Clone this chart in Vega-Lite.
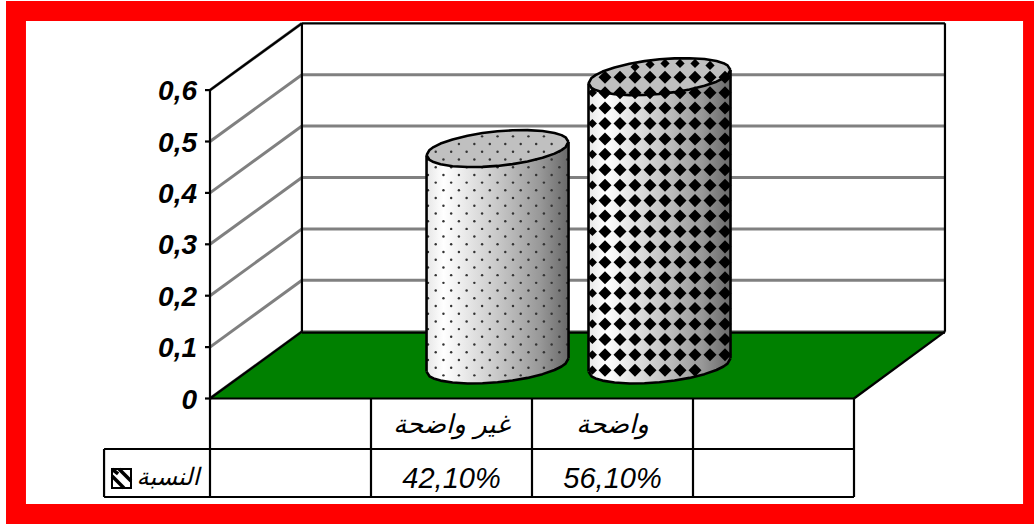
{"$schema":"https://vega.github.io/schema/vega-lite/v6.json","width":1034,"height":525,"padding":0,"autosize":{"type":"none"},"background":"white","config":{"view":{"stroke":null}},
"datasets":{
"frame":[{"x":-1.267,"x2":5.118,"y":0.7733,"y2":-0.2442,"part":"outer"}],
"inner":[{"x":-1.143,"x2":5.05,"y":0.7344,"y2":-0.2053,"part":"inner"}],
"floor":[{"x":0,"y":0,"y2":0},{"x":0.571,"y":0.13,"y2":0},{"x":4,"y":0.13,"y2":0},{"x":4.565,"y":0.13,"y2":0.13}],
"grid":[
{"x":0,"x2":0.571,"y":0,"y2":0.13},{"x":0.571,"x2":4.565,"y":0.13,"y2":0.13},
{"x":0,"x2":0.571,"y":0.1,"y2":0.23},{"x":0.571,"x2":4.565,"y":0.23,"y2":0.23},
{"x":0,"x2":0.571,"y":0.2,"y2":0.33},{"x":0.571,"x2":4.565,"y":0.33,"y2":0.33},
{"x":0,"x2":0.571,"y":0.3,"y2":0.43},{"x":0.571,"x2":4.565,"y":0.43,"y2":0.43},
{"x":0,"x2":0.571,"y":0.4,"y2":0.53},{"x":0.571,"x2":4.565,"y":0.53,"y2":0.53},
{"x":0,"x2":0.571,"y":0.5,"y2":0.63},{"x":0.571,"x2":4.565,"y":0.63,"y2":0.63},
{"x":0,"x2":0.571,"y":0.6,"y2":0.73}],
"edges":[
{"x":0.571,"x2":4.565,"y":0.73,"y2":0.73},{"x":0.571,"x2":0.571,"y":0.13,"y2":0.73},{"x":4.565,"x2":4.565,"y":0.13,"y2":0.73},
{"x":0,"x2":0.571,"y":0.6,"y2":0.73},{"x":0,"x2":0.571,"y":0,"y2":0.13},{"x":4,"x2":4.565,"y":0,"y2":0.13},{"x":0.571,"x2":4.565,"y":0.128,"y2":0.128},
{"x":0,"x2":0,"y":0,"y2":0.6},{"x":0,"x2":4,"y":0,"y2":0},
{"x":-0.658,"x2":4,"y":-0.0982,"y2":-0.0982},{"x":-0.658,"x2":4,"y":-0.1916,"y2":-0.1916},
{"x":-0.658,"x2":-0.658,"y":-0.0982,"y2":-0.1916},{"x":0,"x2":0,"y":0,"y2":-0.1916},{"x":1,"x2":1,"y":0,"y2":-0.1916},{"x":2,"x2":2,"y":0,"y2":-0.1916},{"x":3,"x2":3,"y":0,"y2":-0.1916},{"x":4,"x2":4,"y":0,"y2":-0.1916},
{"x":-0.031,"x2":0,"y":0,"y2":0},{"x":-0.031,"x2":0,"y":0.1,"y2":0.1},{"x":-0.031,"x2":0,"y":0.2,"y2":0.2},{"x":-0.031,"x2":0,"y":0.3,"y2":0.3},{"x":-0.031,"x2":0,"y":0.4,"y2":0.4},{"x":-0.031,"x2":0,"y":0.5,"y2":0.5},{"x":-0.031,"x2":0,"y":0.6,"y2":0.6}],
"ticks":[{"x":-0.0807,"y":0,"label":"0"},{"x":-0.0807,"y":0.1,"label":"0,1"},{"x":-0.0807,"y":0.2,"label":"0,2"},{"x":-0.0807,"y":0.3,"label":"0,3"},{"x":-0.0807,"y":0.4,"label":"0,4"},{"x":-0.0807,"y":0.5,"label":"0,5"},{"x":-0.0807,"y":0.6,"label":"0,6"}],
"cyl":[
{"cat":"غير واضحة","x":1.345,"up":0.4733,"low":0.4733,"base":0.0523},
{"cat":"غير واضحة","x":1.3636,"up":0.4836,"low":0.4642,"base":0.0432},
{"cat":"غير واضحة","x":1.3885,"up":0.4892,"low":0.46,"base":0.039},
{"cat":"غير واضحة","x":1.432,"up":0.496,"low":0.4558,"base":0.0348},
{"cat":"غير واضحة","x":1.5065,"up":0.504,"low":0.452,"base":0.031},
{"cat":"غير واضحة","x":1.5997,"up":0.5113,"low":0.4503,"base":0.0293},
{"cat":"غير واضحة","x":1.6928,"up":0.5164,"low":0.4506,"base":0.0296},
{"cat":"غير واضحة","x":1.786,"up":0.5199,"low":0.4525,"base":0.0315},
{"cat":"غير واضحة","x":1.8792,"up":0.5218,"low":0.456,"base":0.035},
{"cat":"غير واضحة","x":1.9723,"up":0.5221,"low":0.4611,"base":0.0401},
{"cat":"غير واضحة","x":2.0655,"up":0.5204,"low":0.4684,"base":0.0474},
{"cat":"غير واضحة","x":2.14,"up":0.5166,"low":0.4764,"base":0.0554},
{"cat":"غير واضحة","x":2.1835,"up":0.5124,"low":0.4832,"base":0.0622},
{"cat":"غير واضحة","x":2.2084,"up":0.5082,"low":0.4888,"base":0.0678},
{"cat":"غير واضحة","x":2.227,"up":0.4991,"low":0.4991,"base":0.0781},
{"cat":"واضحة","x":2.351,"up":0.6133,"low":0.6133,"base":0.0523},
{"cat":"واضحة","x":2.3696,"up":0.6236,"low":0.6042,"base":0.0432},
{"cat":"واضحة","x":2.3945,"up":0.6292,"low":0.6,"base":0.039},
{"cat":"واضحة","x":2.438,"up":0.636,"low":0.5958,"base":0.0348},
{"cat":"واضحة","x":2.5125,"up":0.644,"low":0.592,"base":0.031},
{"cat":"واضحة","x":2.6057,"up":0.6513,"low":0.5903,"base":0.0293},
{"cat":"واضحة","x":2.6988,"up":0.6564,"low":0.5906,"base":0.0296},
{"cat":"واضحة","x":2.792,"up":0.6599,"low":0.5925,"base":0.0315},
{"cat":"واضحة","x":2.8852,"up":0.6618,"low":0.596,"base":0.035},
{"cat":"واضحة","x":2.9783,"up":0.6621,"low":0.6011,"base":0.0401},
{"cat":"واضحة","x":3.0715,"up":0.6604,"low":0.6084,"base":0.0474},
{"cat":"واضحة","x":3.146,"up":0.6566,"low":0.6164,"base":0.0554},
{"cat":"واضحة","x":3.1895,"up":0.6524,"low":0.6232,"base":0.0622},
{"cat":"واضحة","x":3.2144,"up":0.6482,"low":0.6288,"base":0.0678},
{"cat":"واضحة","x":3.233,"up":0.6391,"low":0.6391,"base":0.0781}],
"sides":[{"x":1.345,"x2":1.345,"y":0.4733,"y2":0.0523},{"x":2.227,"x2":2.227,"y":0.4991,"y2":0.0781},{"x":2.351,"x2":2.351,"y":0.6133,"y2":0.0523},{"x":3.233,"x2":3.233,"y":0.6391,"y2":0.0781}],
"dots":[
{"x":1.354,"y":[0.075,0.105,0.135,0.165,0.195,0.225,0.255,0.285,0.315,0.345,0.375,0.405,0.435,0.465]},
{"x":1.402,"y":[0.06,0.09,0.12,0.15,0.18,0.21,0.24,0.27,0.3,0.33,0.36,0.39,0.42,0.45,0.48]},
{"x":1.45,"y":[0.045,0.075,0.105,0.135,0.165,0.195,0.225,0.255,0.285,0.315,0.345,0.375,0.405,0.435,0.465]},
{"x":1.498,"y":[0.06,0.09,0.12,0.15,0.18,0.21,0.24,0.27,0.3,0.33,0.36,0.39,0.42,0.45,0.48]},
{"x":1.546,"y":[0.045,0.075,0.105,0.135,0.165,0.195,0.225,0.255,0.285,0.315,0.345,0.375,0.405,0.435,0.465,0.495]},
{"x":1.594,"y":[0.06,0.09,0.12,0.15,0.18,0.21,0.24,0.27,0.3,0.33,0.36,0.39,0.42,0.45,0.48]},
{"x":1.642,"y":[0.045,0.075,0.105,0.135,0.165,0.195,0.225,0.255,0.285,0.315,0.345,0.375,0.405,0.435,0.465,0.495]},
{"x":1.69,"y":[0.06,0.09,0.12,0.15,0.18,0.21,0.24,0.27,0.3,0.33,0.36,0.39,0.42,0.45,0.48,0.51]},
{"x":1.738,"y":[0.045,0.075,0.105,0.135,0.165,0.195,0.225,0.255,0.285,0.315,0.345,0.375,0.405,0.435,0.465,0.495]},
{"x":1.786,"y":[0.06,0.09,0.12,0.15,0.18,0.21,0.24,0.27,0.3,0.33,0.36,0.39,0.42,0.45,0.48,0.51]},
{"x":1.834,"y":[0.045,0.075,0.105,0.135,0.165,0.195,0.225,0.255,0.285,0.315,0.345,0.375,0.405,0.435,0.465,0.495]},
{"x":1.882,"y":[0.06,0.09,0.12,0.15,0.18,0.21,0.24,0.27,0.3,0.33,0.36,0.39,0.42,0.45,0.48,0.51]},
{"x":1.93,"y":[0.045,0.075,0.105,0.135,0.165,0.195,0.225,0.255,0.285,0.315,0.345,0.375,0.405,0.435,0.465,0.495]},
{"x":1.978,"y":[0.06,0.09,0.12,0.15,0.18,0.21,0.24,0.27,0.3,0.33,0.36,0.39,0.42,0.45,0.48,0.51]},
{"x":2.026,"y":[0.075,0.105,0.135,0.165,0.195,0.225,0.255,0.285,0.315,0.345,0.375,0.405,0.435,0.465,0.495]},
{"x":2.074,"y":[0.06,0.09,0.12,0.15,0.18,0.21,0.24,0.27,0.3,0.33,0.36,0.39,0.42,0.45,0.48,0.51]},
{"x":2.122,"y":[0.075,0.105,0.135,0.165,0.195,0.225,0.255,0.285,0.315,0.345,0.375,0.405,0.435,0.465,0.495]},
{"x":2.17,"y":[0.09,0.12,0.15,0.18,0.21,0.24,0.27,0.3,0.33,0.36,0.39,0.42,0.45,0.48]},
{"x":2.218,"y":[0.105,0.135,0.165,0.195,0.225,0.255,0.285,0.315,0.345,0.375,0.405,0.435,0.465,0.495]}],
"diamonds":[
{"x":2.4535,"y":[0.055,0.085,0.115,0.145,0.175,0.205,0.235,0.265,0.295,0.325,0.355,0.385,0.415,0.445,0.475,0.505,0.535,0.565,0.595,0.625]},
{"x":2.5467,"y":[0.055,0.085,0.115,0.145,0.175,0.205,0.235,0.265,0.295,0.325,0.355,0.385,0.415,0.445,0.475,0.505,0.535,0.565,0.595,0.625]},
{"x":2.6398,"y":[0.055,0.085,0.115,0.145,0.175,0.205,0.235,0.265,0.295,0.325,0.355,0.385,0.415,0.445,0.475,0.505,0.535,0.565,0.595,0.625]},
{"x":2.733,"y":[0.055,0.085,0.115,0.145,0.175,0.205,0.235,0.265,0.295,0.325,0.355,0.385,0.415,0.445,0.475,0.505,0.535,0.565,0.595,0.625]},
{"x":2.8262,"y":[0.055,0.085,0.115,0.145,0.175,0.205,0.235,0.265,0.295,0.325,0.355,0.385,0.415,0.445,0.475,0.505,0.535,0.565,0.595,0.625]},
{"x":2.9193,"y":[0.055,0.085,0.115,0.145,0.175,0.205,0.235,0.265,0.295,0.325,0.355,0.385,0.415,0.445,0.475,0.505,0.535,0.565,0.595,0.625]},
{"x":3.0125,"y":[0.055,0.085,0.115,0.145,0.175,0.205,0.235,0.265,0.295,0.325,0.355,0.385,0.415,0.445,0.475,0.505,0.535,0.565,0.595,0.625]},
{"x":3.1057,"y":[0.085,0.115,0.145,0.175,0.205,0.235,0.265,0.295,0.325,0.355,0.385,0.415,0.445,0.475,0.505,0.535,0.565,0.595,0.625]},
{"x":3.1988,"y":[0.085,0.115,0.145,0.175,0.205,0.235,0.265,0.295,0.325,0.355,0.385,0.415,0.445,0.475,0.505,0.535,0.565,0.595,0.625]}],
"smallDiamonds":[
{"x":2.375,"y":[0.055,0.085,0.115,0.145,0.175,0.205,0.235,0.265,0.295,0.325,0.355,0.385,0.415,0.445,0.475,0.505,0.535,0.565,0.595]},
{"x":2.6398,"y":[0.645]},{"x":2.733,"y":[0.65]},{"x":2.8262,"y":[0.652]},{"x":2.9193,"y":[0.652]},{"x":3.0125,"y":[0.652]},{"x":3.1057,"y":[0.648]}],
"arabic":[{"x":1.5,"y":-0.0516,"label":"غير واضحة"},{"x":2.5,"y":-0.0516,"label":"واضحة"}],
"legendLabel":[{"x":-0.261,"y":-0.1547,"label":"النسبة"}],
"values":[{"x":1.5,"y":-0.1567,"cat":"غير واضحة","value":0.421,"label":"42,10%"},{"x":2.5,"y":-0.1567,"cat":"واضحة","value":0.561,"label":"56,10%"}],
"key":[{"x":-0.6087,"x2":-0.4907,"y":-0.1372,"y2":-0.1741}],
"stripes":[{"x":-0.6087,"x2":-0.5342,"y":-0.1508,"y2":-0.1741},{"x":-0.5652,"x2":-0.4907,"y":-0.1372,"y2":-0.1605},{"x":-0.6087,"x2":-0.5707,"y":-0.1372,"y2":-0.1468}]
},
"encoding":{
"x":{"field":"x","type":"quantitative","scale":{"domain":[-1.3043,5.118],"nice":false,"zero":false},"axis":null},
"y":{"field":"y","type":"quantitative","scale":{"domain":[-0.2461,0.7753],"nice":false,"zero":false},"axis":null}},
"layer":[
{"data":{"name":"frame"},"mark":{"type":"rect","color":"#ff0000"},"encoding":{"x2":{"field":"x2"},"y2":{"field":"y2"}}},
{"data":{"name":"inner"},"mark":{"type":"rect","color":"white"},"encoding":{"x2":{"field":"x2"},"y2":{"field":"y2"}}},
{"data":{"name":"grid"},"mark":{"type":"rule","color":"#808080","strokeWidth":3},"encoding":{"x2":{"field":"x2"},"y2":{"field":"y2"}}},
{"data":{"name":"floor"},"mark":{"type":"area","color":"#008000","orient":"vertical"},"encoding":{"y2":{"field":"y2"}}},
{"data":{"name":"edges"},"mark":{"type":"rule","color":"black","strokeWidth":2.2},"encoding":{"x2":{"field":"x2"},"y2":{"field":"y2"}}},
{"data":{"name":"cyl"},"mark":{"type":"area","orient":"vertical","color":{"gradient":"linear","x1":0,"x2":1,"y1":0,"y2":0,"stops":[{"offset":0,"color":"#e6e6e6"},{"offset":0.12,"color":"#ffffff"},{"offset":0.5,"color":"#c8c8c8"},{"offset":0.8,"color":"#989898"},{"offset":1,"color":"#686868"}]}},"encoding":{"detail":{"field":"cat"},"y":{"field":"low","type":"quantitative","scale":{"domain":[-0.2461,0.7753],"nice":false,"zero":false},"axis":null},"y2":{"field":"base"}}},
{"data":{"name":"cyl"},"mark":{"type":"area","orient":"vertical","color":"#c0c0c0"},"encoding":{"detail":{"field":"cat"},"y":{"field":"up","type":"quantitative","scale":{"domain":[-0.2461,0.7753],"nice":false,"zero":false},"axis":null},"y2":{"field":"low"}}},
{"data":{"name":"dots"},"transform":[{"flatten":["y"]}],"mark":{"type":"point","shape":"circle","filled":true,"color":"#333333","size":6,"opacity":1}},
{"data":{"name":"diamonds"},"transform":[{"flatten":["y"]}],"mark":{"type":"point","shape":"diamond","filled":true,"color":"black","size":170,"opacity":1}},
{"data":{"name":"smallDiamonds"},"transform":[{"flatten":["y"]}],"mark":{"type":"point","shape":"diamond","filled":true,"color":"black","size":85,"opacity":1}},
{"data":{"name":"cyl"},"mark":{"type":"line","color":"black","strokeWidth":2.6,"strokeJoin":"round"},"encoding":{"detail":{"field":"cat"},"y":{"field":"up","type":"quantitative","scale":{"domain":[-0.2461,0.7753],"nice":false,"zero":false},"axis":null}}},
{"data":{"name":"cyl"},"mark":{"type":"line","color":"black","strokeWidth":2.6,"strokeJoin":"round"},"encoding":{"detail":{"field":"cat"},"y":{"field":"low","type":"quantitative","scale":{"domain":[-0.2461,0.7753],"nice":false,"zero":false},"axis":null}}},
{"data":{"name":"cyl"},"mark":{"type":"line","color":"black","strokeWidth":2.6,"strokeJoin":"round"},"encoding":{"detail":{"field":"cat"},"y":{"field":"base","type":"quantitative","scale":{"domain":[-0.2461,0.7753],"nice":false,"zero":false},"axis":null}}},
{"data":{"name":"sides"},"mark":{"type":"rule","color":"black","strokeWidth":2.6},"encoding":{"x2":{"field":"x2"},"y2":{"field":"y2"}}},
{"data":{"name":"ticks"},"mark":{"type":"text","font":"Liberation Sans","fontStyle":"italic","fontWeight":"bold","fontSize":28,"color":"black","align":"right","baseline":"middle","dy":2},"encoding":{"text":{"field":"label"}}},
{"data":{"name":"arabic"},"mark":{"type":"text","font":"DejaVu Sans","fontStyle":"italic","fontSize":26,"color":"black","align":"center","baseline":"middle"},"encoding":{"text":{"field":"label"}}},
{"data":{"name":"legendLabel"},"mark":{"type":"text","font":"DejaVu Sans","fontStyle":"italic","fontSize":24,"color":"black","align":"center","baseline":"middle"},"encoding":{"text":{"field":"label"}}},
{"data":{"name":"values"},"mark":{"type":"text","font":"Liberation Sans","fontStyle":"italic","fontSize":29,"color":"black","align":"center","baseline":"middle"},"encoding":{"text":{"field":"label"}}},
{"data":{"name":"key"},"mark":{"type":"rect","fill":"white","stroke":"black","strokeWidth":2},"encoding":{"x2":{"field":"x2"},"y2":{"field":"y2"}}},
{"data":{"name":"stripes"},"mark":{"type":"rule","color":"black","strokeWidth":3.5},"encoding":{"x2":{"field":"x2"},"y2":{"field":"y2"}}}
]}
